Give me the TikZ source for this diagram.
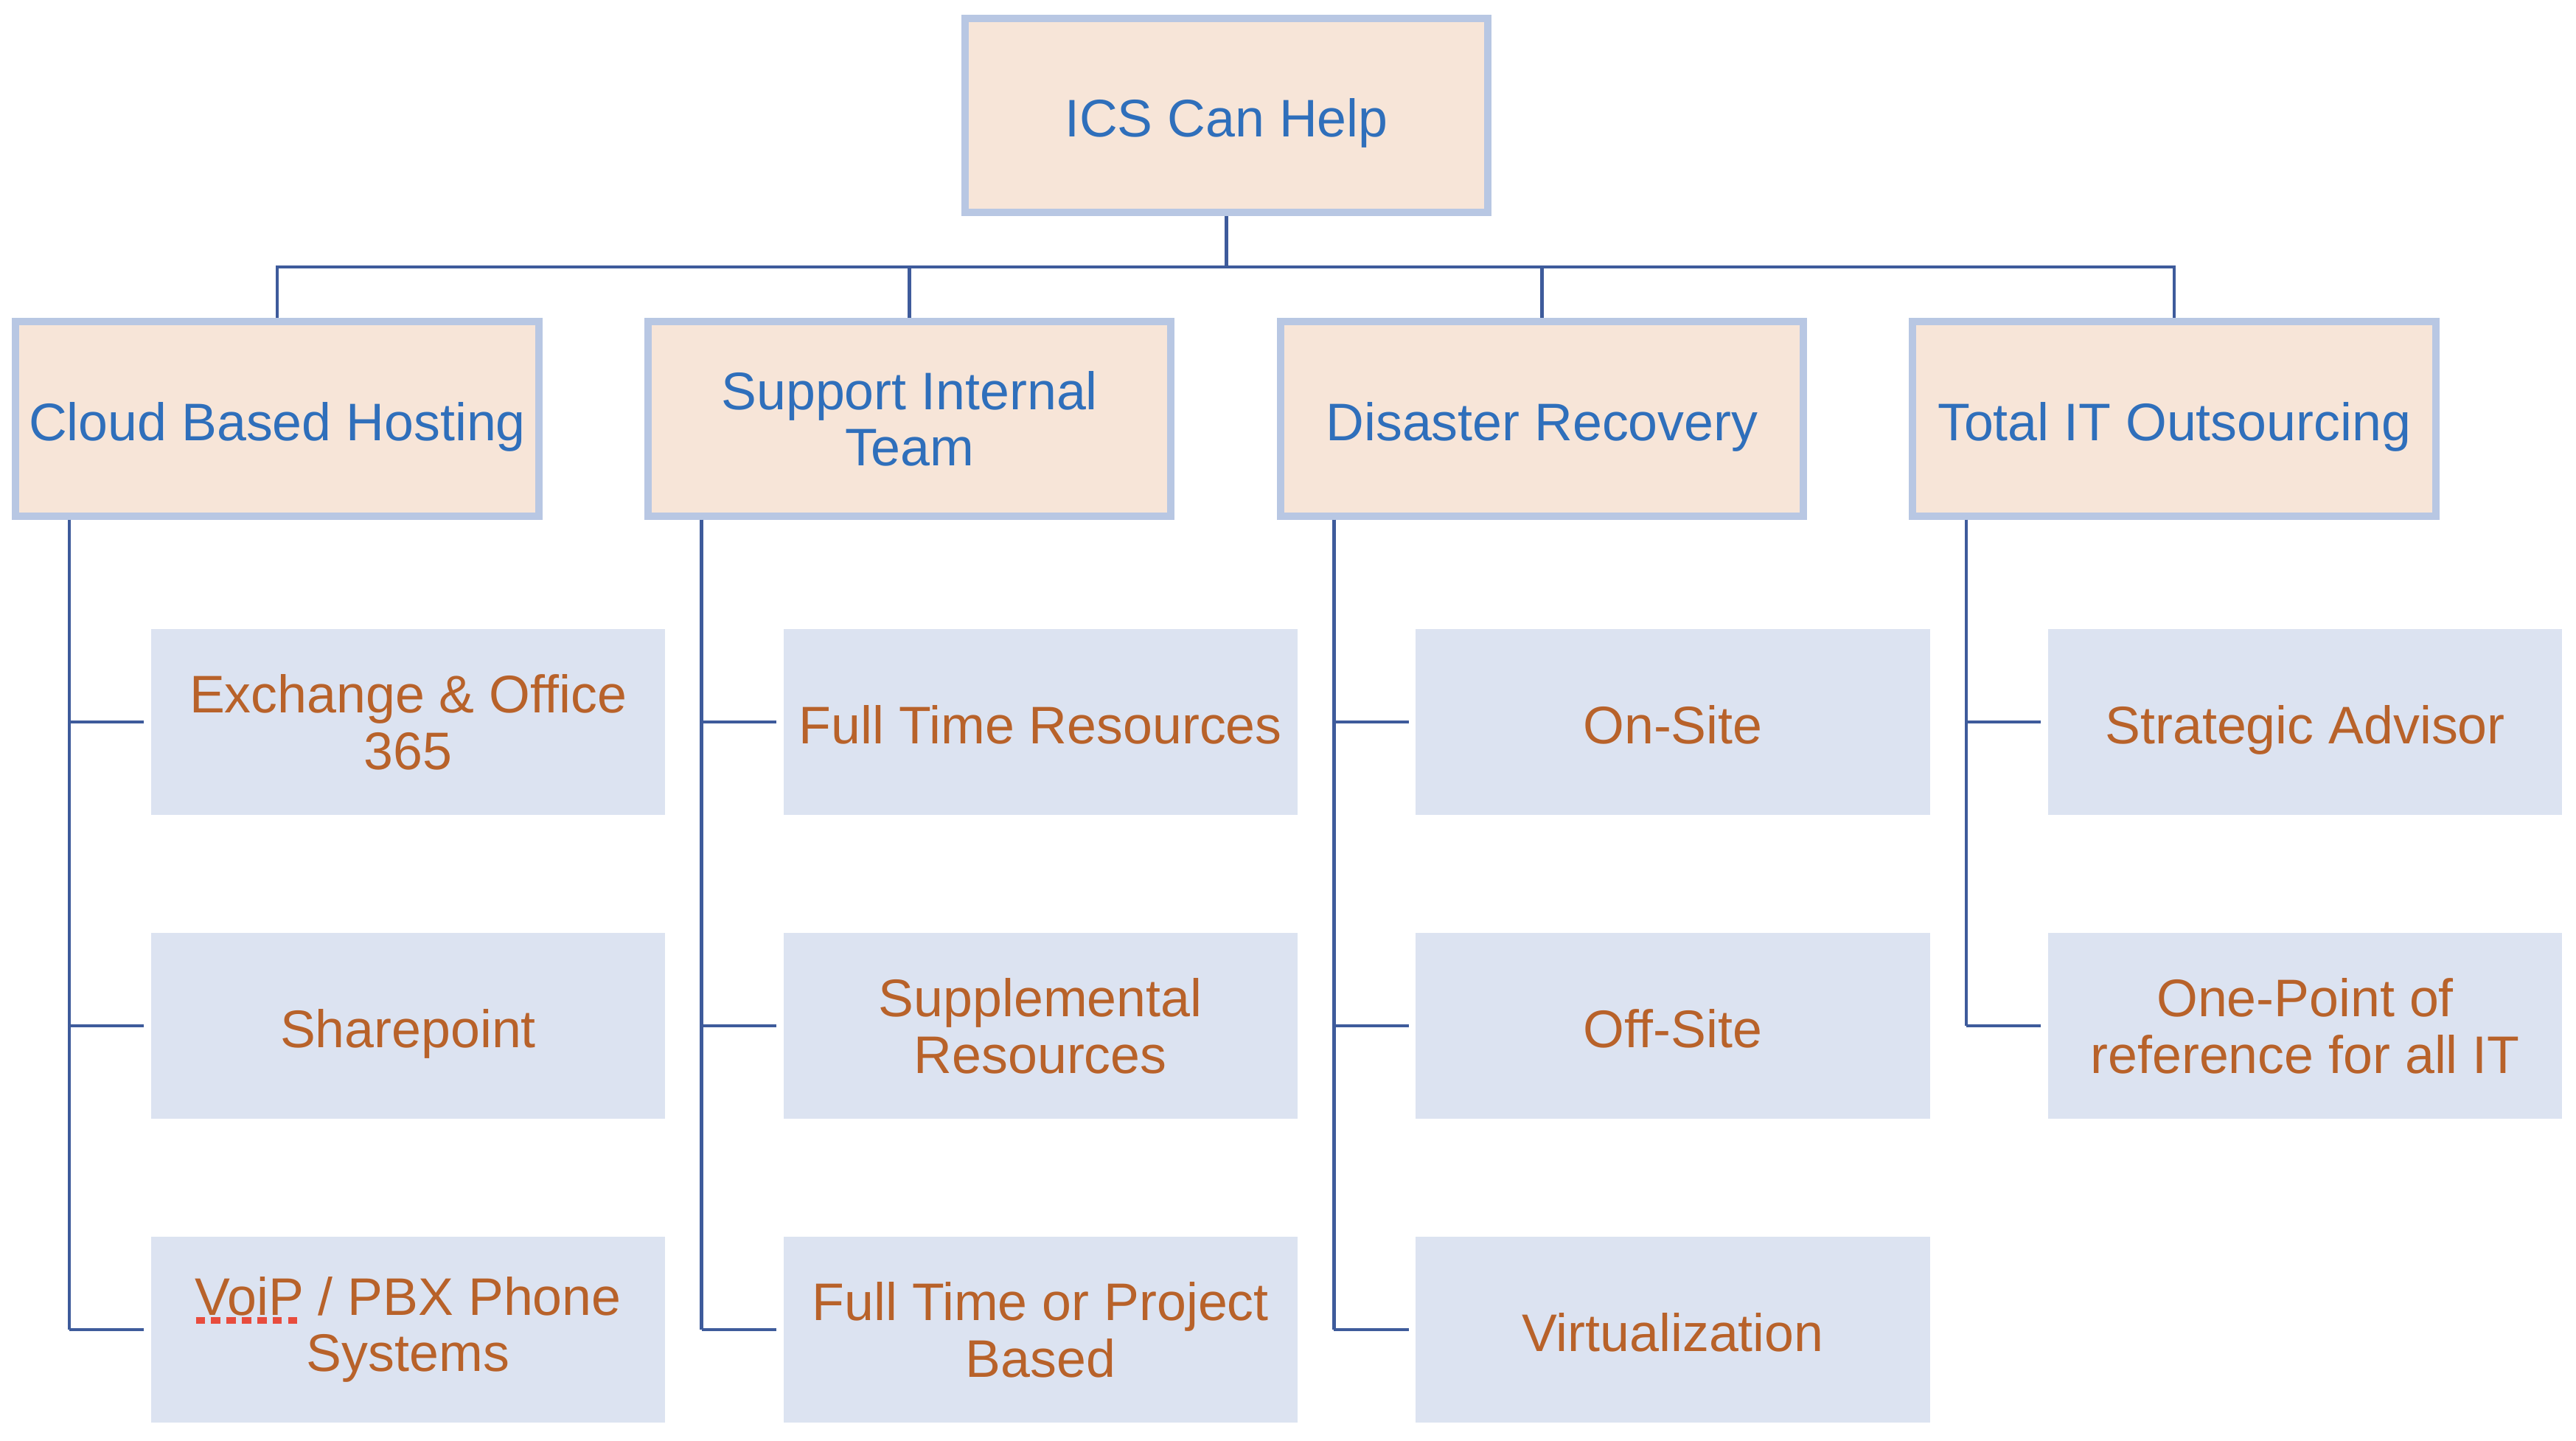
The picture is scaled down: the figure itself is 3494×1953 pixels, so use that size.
\documentclass[tikz,border=0pt]{standalone}
\usepackage{fontspec}
\setmainfont{Liberation Sans}
\usepackage{xcolor}
\usetikzlibrary{positioning, calc}

\definecolor{headfill}{HTML}{F7E5D8}
\definecolor{headline}{HTML}{B8C7E3}
\definecolor{headtext}{HTML}{2F6FBB}
\definecolor{itemfill}{HTML}{DCE3F1}
\definecolor{itemtext}{HTML}{B8622A}
\definecolor{linkcol}{HTML}{3E5B9B}
\definecolor{spellred}{HTML}{E84C3D}

% red dotted mark under a word
\newsavebox{\wordbox}
\newcommand{\spellmark}[1]{\sbox{\wordbox}{#1}%
  \makebox[0pt][l]{\raisebox{-3.2pt}{\color{spellred}\makebox[\wd\wordbox][s]{\xleaders\hbox{\rule{3.5pt}{2.4pt}\hspace{2.1pt}}\hfill}}}%
  \usebox{\wordbox}}

\begin{document}
\begin{tikzpicture}[x=0.01cm, y=-0.01cm,
    head/.style={draw=headline, line width=0.1cm, fill=headfill, text=headtext,
        minimum width=7.09cm, minimum height=2.63cm, align=center,
        font=\fontsize{20.4}{21.8}\selectfont},
    item/.style={fill=itemfill, text=itemtext, minimum width=6.97cm,
        minimum height=2.52cm, align=center, font=\fontsize{20.4}{21.8}\selectfont},
    oneline/.style={text height=16.6pt, text depth=0pt},
    twoline/.style={},
    link/.style={draw=linkcol, line width=0.045cm}
]
    \useasboundingbox (0,0) rectangle (3494,1953);

    \node[head, oneline] (ics) at (1663.5,156.5) {ICS Can Help};

    \foreach \i/\lbl/\sty in {1/{Cloud Based Hosting}/oneline, 2/{Support Internal\\Team}/twoline,
                              3/{Disaster Recovery}/oneline, 4/{Total IT Outsourcing}/oneline} {
        \node[head, \sty] (grp\i) at ({376+(\i-1)*857.7},568) {\lbl};
        \draw[link] (ics.south) -- ++(0,69) -| (grp\i.north);
        \coordinate (spine\i) at ([xshift=-2.82cm]grp\i.south);
    }

    \foreach \i/\items in {
        1/{{Exchange \& Office\\365}/twoline,{Sharepoint}/oneline,{\spellmark{VoiP} / PBX Phone\\Systems}/twoline},
        2/{{Full Time Resources}/oneline,{Supplemental\\Resources}/twoline,{Full Time or Project\\Based}/twoline},
        3/{{On-Site}/oneline,{Off-Site}/oneline,{Virtualization}/oneline},
        4/{{Strategic Advisor}/oneline,{One-Point of\\reference for all IT}/twoline}} {
        \foreach \txt/\sty [count=\j] in \items {
            \node[item, \sty] (item\i\j) at ({553.5+(\i-1)*857.7},{979+(\j-1)*412}) {\txt};
            \draw[link] (spine\i |- item\i\j.west) -- ([xshift=-0.09cm]item\i\j.west);
        }
    }

    \foreach \i/\n in {1/3, 2/3, 3/3, 4/2} {
        \draw[link] (spine\i) -- (spine\i |- item\i\n.west);
    }
\end{tikzpicture}
\end{document}
